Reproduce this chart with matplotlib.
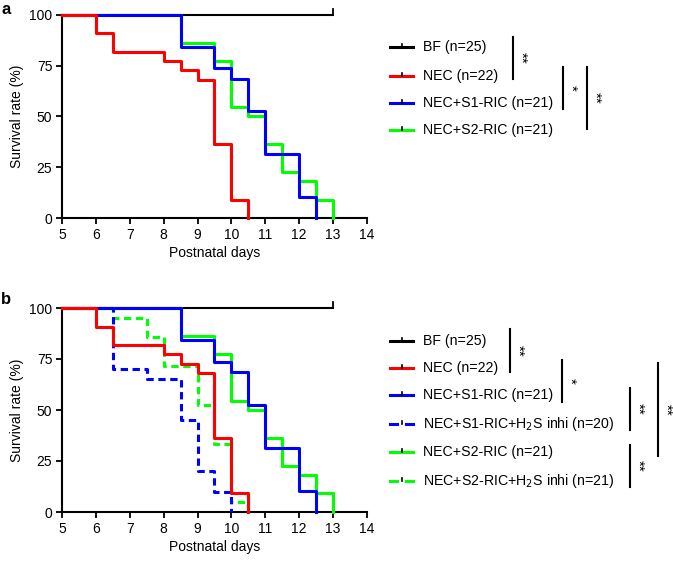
import numpy as np
import matplotlib
matplotlib.use('Agg')
import matplotlib.pyplot as plt

plt.rcParams['font.family'] = ['Liberation Sans', 'DejaVu Sans']

# survival curves (step changes, value holds until next time)
bf_t = [5, 13]
bf_s = [100, 100]

nec_t = [5, 6, 6.5, 8, 8.5, 9, 9.5, 10, 10.5]
nec_s = [100, 90.9, 81.8, 77.3, 72.7, 68.2, 36.4, 9.1, 0]

s1_t = [5, 8.5, 9.5, 10, 10.5, 11, 12, 12.5]
s1_s = [100, 84.2, 73.7, 68.4, 52.6, 31.6, 10.5, 0]

s2_t = [5, 8.5, 9.5, 10, 10.5, 11, 11.5, 12, 12.5, 13]
s2_s = [100, 86.4, 77.3, 54.5, 50, 36.4, 22.7, 18.2, 9.1, 0]

s1h_t = [5, 6.5, 7.5, 8.5, 9, 9.5, 10]
s1h_s = [100, 70, 65, 45, 20, 10, 0]

s2h_t = [5, 6.5, 7.5, 8, 9, 9.5, 10, 10.5]
s2h_s = [100, 95.2, 85.7, 71.4, 52.4, 33.3, 4.8, 0]

labels_a = ['BF (n=25)', 'NEC (n=22)', 'NEC+S1-RIC (n=21)', 'NEC+S2-RIC (n=21)']
labels_b = ['BF (n=25)', 'NEC (n=22)', 'NEC+S1-RIC (n=21)',
            'NEC+S1-RIC+H$_2$S inhi (n=20)', 'NEC+S2-RIC (n=21)',
            'NEC+S2-RIC+H$_2$S inhi (n=21)']

red = '#ff0000'
blue = '#0000ff'
green = '#00ff00'

W, H = 673, 563
fig = plt.figure(figsize=(W / 100, H / 100), dpi=100)


def setup(ax):
    ax.set_xlim(5, 14)
    ax.set_ylim(0, 100)
    ax.spines['top'].set_visible(False)
    ax.spines['right'].set_visible(False)
    ax.spines['left'].set_linewidth(1.5)
    ax.spines['bottom'].set_linewidth(1.5)
    ax.set_xticks(np.arange(5, 15))
    ax.set_yticks([0, 25, 50, 75, 100])
    ax.tick_params(width=1.3, length=4, labelsize=10, pad=3)
    ax.set_xlabel('Postnatal days', fontsize=10, labelpad=3)
    ax.set_ylabel('Survival rate (%)', fontsize=10, labelpad=4)


def curve(ax, t, s, c, lw=2.2, dashed=False, z=3):
    tt = list(t) + [t[-1]]
    ss = list(s) + [s[-1]]
    ln, = ax.step(tt, ss, where='post', color=c, lw=lw, clip_on=False, zorder=z)
    if dashed:
        ln.set_dashes([2.4, 1.5])
    return ln


ax1 = fig.add_axes([62 / W, 1 - 218 / H, 305 / W, 203 / H])
setup(ax1)
curve(ax1, bf_t, bf_s, 'black', lw=1.5, z=2)
ax1.plot([13, 13], [100, 103], color='black', lw=1.3, clip_on=False)
curve(ax1, s2_t, s2_s, green)
curve(ax1, s1_t, s1_s, blue)
curve(ax1, nec_t, nec_s, red)

ax2 = fig.add_axes([62 / W, 1 - 512 / H, 305 / W, 204 / H])
setup(ax2)
curve(ax2, s2h_t, s2h_s, green, dashed=True)
curve(ax2, s1h_t, s1h_s, blue, dashed=True)
curve(ax2, bf_t, bf_s, 'black', lw=1.5, z=3)
ax2.plot([13, 13], [100, 103], color='black', lw=1.3, clip_on=False)
curve(ax2, s2_t, s2_s, green)
curve(ax2, s1_t, s1_s, blue)
curve(ax2, nec_t, nec_s, red)

# overlay in pixel coordinates for legends and brackets
ov = fig.add_axes([0, 0, 1, 1])
ov.set_xlim(0, W)
ov.set_ylim(H, 0)
ov.axis('off')

ov.text(1, 9, 'a', fontsize=12, fontweight='bold', va='center')
ov.text(1, 299, 'b', fontsize=12, fontweight='bold', va='center')


def legend_item(y, c, text, dashed=False):
    if dashed:
        ov.plot([390, 397], [y, y], color=c, lw=2.2)
        ov.plot([406, 413], [y, y], color=c, lw=2.2)
    else:
        ov.plot([390, 413], [y, y], color=c, lw=2.2)
    ov.plot([401.5, 401.5], [y, y - 3.5], color='black', lw=1.2)
    ov.text(423, y, text, fontsize=10.2, va='center')


cols_a = ['black', red, blue, green]
ys_a = [47, 76, 103, 130]
for y, c, t in zip(ys_a, cols_a, labels_a):
    legend_item(y, c, t)

cols_b = ['black', red, blue, blue, green, green]
dash_b = [False, False, False, True, False, True]
ys_b = [341, 368, 395, 424, 452, 481]
for y, c, t, d in zip(ys_b, cols_b, labels_b, dash_b):
    legend_item(y, c, t, d)


def bracket(x, y0, y1, stars):
    ov.plot([x, x], [y0, y1], color='black', lw=1.5)
    ov.text(x + 8, (y0 + y1) / 2, stars, fontsize=11, rotation=-90,
            ha='center', va='center')


bracket(513, 37, 79, '**')
bracket(563, 67, 109, '*')
bracket(587, 67, 129, '**')

bracket(510, 329, 372, '**')
bracket(562, 360, 402, '*')
bracket(630, 388, 430, '**')
bracket(658, 363, 456, '**')
bracket(630, 445, 487, '**')

fig.savefig('out.png', dpi=100)
